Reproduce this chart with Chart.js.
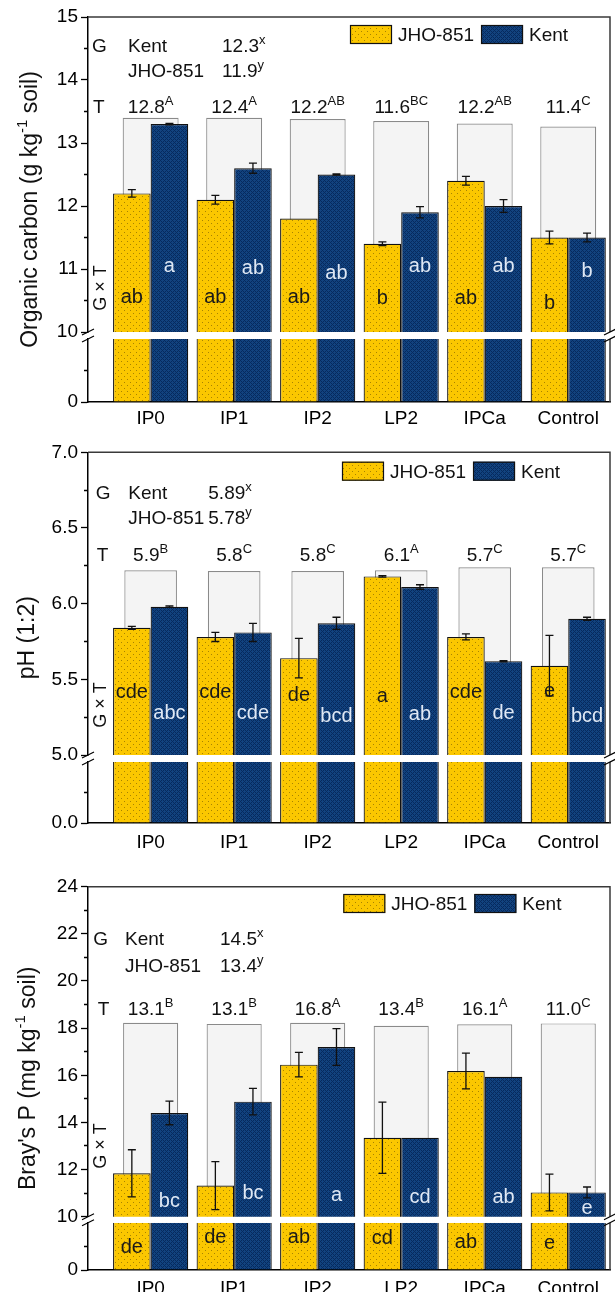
<!DOCTYPE html>
<html lang="en">
<head>
<meta charset="utf-8">
<title>Soil organic carbon, pH and Bray's P by treatment and genotype</title>
<script src="https://cdn.jsdelivr.net/npm/chart.js@4.4.1/dist/chart.umd.min.js"></script>
<style>
  html, body { margin: 0; padding: 0; background: #fff; }
  body { position: relative; width: 615px; height: 1292px; overflow: hidden; }
  canvas.panel { position: absolute; left: 0; }
</style>
</head>
<body>
<canvas id="panelOC" class="panel" width="615" height="440" style="top:0px"></canvas>
<canvas id="panelPH" class="panel" width="615" height="440" style="top:425px"></canvas>
<canvas id="panelBP" class="panel" width="615" height="455" style="top:865px"></canvas>
<script>
// ---------------- data ----------------
const treatments = ['IP0', 'IP1', 'IP2', 'LP2', 'IPCa', 'Control'];
const genotypes = ['JHO-851', 'Kent'];
const genotypeRanking = ['Kent', 'JHO-851'];

// Organic carbon (g kg-1 soil)
const ocJHO = [12.2, 12.1, 11.8, 11.4, 12.4, 11.5];
const ocJHOErr = [0.06, 0.07, 0, 0.03, 0.07, 0.1];
const ocKent = [13.3, 12.6, 12.5, 11.9, 12.0, 11.5];
const ocKentErr = [0.01, 0.08, 0.01, 0.09, 0.1, 0.07];
const ocTreatMean = ['12.8', '12.4', '12.2', '11.6', '12.2', '11.4'];
const ocTreatGroup = ['A', 'A', 'AB', 'BC', 'AB', 'C'];
const ocTreatBracket = [13.40, 13.40, 13.38, 13.35, 13.31, 13.26];
const ocGenoMean = ['12.3', '11.9'];
const ocGenoGroup = ['x', 'y'];
const ocJHOLetters = ['ab', 'ab', 'ab', 'b', 'ab', 'b'];
const ocKentLetters = ['a', 'ab', 'ab', 'ab', 'ab', 'b'];
const ocTicksUpper = [10, 10.5, 11, 11.5, 12, 12.5, 13, 13.5, 14, 14.5, 15];
const ocTickLabelsUpper = ['10', '', '11', '', '12', '', '13', '', '14', '', '15'];
const ocTicksLower = [0, 5];
const ocTickLabelsLower = ['0', ''];

// pH (1:2)
const phJHO = [5.84, 5.78, 5.64, 6.18, 5.78, 5.59];
const phJHOErr = [0.01, 0.03, 0.13, 0.005, 0.02, 0.2];
const phKent = [5.98, 5.81, 5.87, 6.11, 5.62, 5.90];
const phKentErr = [0.005, 0.06, 0.04, 0.015, 0.004, 0.01];
const phTreatMean = ['5.9', '5.8', '5.8', '6.1', '5.7', '5.7'];
const phTreatGroup = ['B', 'C', 'C', 'A', 'C', 'C'];
const phTreatBracket = [6.22, 6.215, 6.215, 6.22, 6.24, 6.24];
const phGenoMean = ['5.89', '5.78'];
const phGenoGroup = ['x', 'y'];
const phJHOLetters = ['cde', 'cde', 'de', 'a', 'cde', 'e'];
const phKentLetters = ['abc', 'cde', 'bcd', 'ab', 'de', 'bcd'];
const phTicksUpper = [5, 5.25, 5.5, 5.75, 6, 6.25, 6.5, 6.75, 7];
const phTickLabelsUpper = ['5.0', '', '5.5', '', '6.0', '', '6.5', '', '7.0'];
const phTicksLower = [0, 2.5];
const phTickLabelsLower = ['0.0', ''];

// Bray's P (mg kg-1 soil)
const bpJHO = [11.84, 11.32, 16.45, 13.35, 16.18, 11.03];
const bpJHOErr = [1.0, 1.02, 0.52, 1.51, 0.76, 0.78];
const bpKent = [14.4, 14.88, 17.2, 13.35, 15.94, 11.03];
const bpKentErr = [0.5, 0.56, 0.78, 0, 0, 0.23];
const bpTreatMean = ['13.1', '13.1', '16.8', '13.4', '16.1', '11.0'];
const bpTreatGroup = ['B', 'B', 'A', 'B', 'A', 'C'];
const bpTreatBracket = [18.23, 18.18, 18.23, 18.1, 18.16, 18.2];
const bpGenoMean = ['14.5', '13.4'];
const bpGenoGroup = ['x', 'y'];
const bpJHOLetters = ['de', 'de', 'ab', 'cd', 'ab', 'e'];
const bpKentLetters = ['bc', 'bc', 'a', 'cd', 'ab', 'e'];
const bpTicksUpper = [10, 11, 12, 13, 14, 15, 16, 17, 18, 19, 20, 21, 22, 23, 24];
const bpTickLabelsUpper = ['10', '', '12', '', '14', '', '16', '', '18', '', '20', '', '22', '', '24'];
const bpTicksLower = [0, 5];
const bpTickLabelsLower = ['0', ''];

// ---------------- styling ----------------
const FONT = "'Liberation Sans', Arial, Helvetica, sans-serif";
const TICK_SIZE = 19;
const ANNO_SIZE = 19;
const LETTER_SIZE = 20;
const TITLE_SIZE = 23;
const INK = '#111';

Chart.defaults.font.family = FONT;
Chart.defaults.color = '#000';

function makeFills(ctx) {
  const a = document.createElement('canvas');
  a.width = 6; a.height = 6;
  const g = a.getContext('2d');
  g.fillStyle = '#fbc700';
  g.fillRect(0, 0, 6, 6);
  g.fillStyle = '#a88300';
  g.fillRect(1, 1, 1, 1);
  g.fillRect(4, 4, 1, 1);

  const b = document.createElement('canvas');
  b.width = 4; b.height = 4;
  const h = b.getContext('2d');
  h.fillStyle = '#12437f';
  h.fillRect(0, 0, 4, 4);
  h.fillStyle = '#062a5e';
  [[0, 0], [1, 1], [2, 2], [3, 3], [1, 3], [3, 1]].forEach(([x, y]) => h.fillRect(x, y, 1, 1));
  return { jho: ctx.createPattern(a, 'repeat'), kent: ctx.createPattern(b, 'repeat') };
}

// text with optional superscript runs; y is the baseline
function richText(ctx, parts, x, y, align, size, color) {
  const supSize = Math.round(size * 0.66);
  const widths = parts.map(([t, sup]) => {
    ctx.font = `${sup ? supSize : size}px ${FONT}`;
    return ctx.measureText(t).width;
  });
  const total = widths.reduce((s, w) => s + w, 0);
  let cx = align === 'center' ? x - total / 2 : align === 'right' ? x - total : x;
  ctx.textAlign = 'left';
  ctx.textBaseline = 'alphabetic';
  ctx.fillStyle = color || INK;
  parts.forEach(([t, sup], k) => {
    ctx.font = `${sup ? supSize : size}px ${FONT}`;
    ctx.fillText(t, cx, sup ? y - size * 0.42 : y);
    cx += widths[k];
  });
}

const capMid = size => 0.358 * size;

function decorations(P, fills) {
  const L = P.look;
  return {
    id: 'decor',
    afterLayout(chart) {
      // split the value axis into an upper and a lower segment with a gap
      const up = chart.scales.yUp, lo = chart.scales.yLo;
      const area = chart.chartArea;
      lo.top = area.bottom - L.lowerPx;
      lo.bottom = area.bottom;
      lo.height = L.lowerPx;
      up.top = area.top;
      up.bottom = lo.top - L.gapPx;
      up.height = up.bottom - up.top;
      up.configure();
      lo.configure();
    },
    afterDatasetsDraw(chart) {
      const ctx = chart.ctx, up = chart.scales.yUp;
      ctx.save();
      // error bars
      ctx.strokeStyle = INK;
      ctx.lineWidth = 1.3;
      [[0, P.jho, P.jhoErr], [1, P.kent, P.kentErr]].forEach(([di, vals, errs]) => {
        const meta = chart.getDatasetMeta(di);
        vals.forEach((v, i) => {
          if (!errs[i]) return;
          const x = meta.data[i].x;
          const y1 = up.getPixelForValue(v + errs[i]);
          const y2 = up.getPixelForValue(v - errs[i]);
          ctx.beginPath();
          ctx.moveTo(x, y1); ctx.lineTo(x, y2);
          ctx.moveTo(x - 4, y1); ctx.lineTo(x + 4, y1);
          ctx.moveTo(x - 4, y2); ctx.lineTo(x + 4, y2);
          ctx.stroke();
        });
      });
      // G x T letters inside the bars
      [[0, P.jhoLetters, L.jhoLetter, '#1a1a1a'], [1, P.kentLetters, L.kentLetter, '#dfe8f4']].forEach(([di, letters, at, color]) => {
        const meta = chart.getDatasetMeta(di);
        const scale = chart.scales[at.axis];
        letters.forEach((t, i) => {
          const cy = scale.getPixelForValue(at.rows[i]);
          richText(ctx, [[t, false]], meta.data[i].x, cy + capMid(LETTER_SIZE), 'center', LETTER_SIZE, color);
        });
      });
      ctx.restore();
    },
    afterDraw(chart) {
      const ctx = chart.ctx, a = chart.chartArea;
      const up = chart.scales.yUp, lo = chart.scales.yLo, xs = chart.scales.x;
      ctx.save();
      // frame on top and right
      ctx.strokeStyle = '#3a3a3a';
      ctx.lineWidth = 1.5;
      ctx.beginPath();
      ctx.moveTo(a.left, a.top); ctx.lineTo(a.right, a.top); ctx.lineTo(a.right, up.bottom);
      ctx.moveTo(a.right, lo.top); ctx.lineTo(a.right, a.bottom);
      ctx.stroke();
      // axis break marks
      ctx.strokeStyle = '#000';
      ctx.lineWidth = 1.2;
      [a.left, a.right].forEach(x => [up.bottom, lo.top].forEach(y => {
        ctx.beginPath();
        ctx.moveTo(x - 6, y + 3);
        ctx.lineTo(x + 6, y - 3);
        ctx.stroke();
      }));

      // y axis title
      ctx.save();
      ctx.translate(L.titleX, (a.top + a.bottom) / 2);
      ctx.rotate(-Math.PI / 2);
      richText(ctx, P.title, 0, 0, 'center', TITLE_SIZE);
      ctx.restore();

      // genotype means
      const gy = up.getPixelForValue(L.gRow) + capMid(ANNO_SIZE);
      const jy = up.getPixelForValue(L.jRow) + capMid(ANNO_SIZE);
      richText(ctx, [['G', false]], L.gX, gy, 'left', ANNO_SIZE);
      [gy, jy].forEach((y, k) => {
        richText(ctx, [[genotypeRanking[k], false]], L.nameX, y, 'left', ANNO_SIZE);
        richText(ctx, [[P.genoMean[k], false], [P.genoGroup[k], true]], L.valX, y, 'left', ANNO_SIZE);
      });

      // treatment means
      const ty = up.getPixelForValue(L.tRow) + capMid(ANNO_SIZE);
      richText(ctx, [['T', false]], L.tX, ty, 'left', ANNO_SIZE);
      treatments.forEach((_, i) => {
        richText(ctx, [[P.treatMean[i], false], [P.treatGroup[i], true]], xs.getPixelForValue(i), ty, 'center', ANNO_SIZE);
      });

      // G x T label
      ctx.save();
      ctx.translate(L.gxtX, up.getPixelForValue(L.gxt));
      ctx.rotate(-Math.PI / 2);
      richText(ctx, [['G \u00d7 T', false]], 0, capMid(18), 'center', 18);
      ctx.restore();

      // legend
      let lx = L.legendX;
      const ly = L.legendY - L.top;
      [[chart.data.datasets[0].backgroundColor, genotypes[0]], [chart.data.datasets[1].backgroundColor, genotypes[1]]].forEach(([fill, name]) => {
        ctx.fillStyle = fill;
        ctx.fillRect(lx, ly, 42, 19);
        ctx.strokeStyle = INK;
        ctx.lineWidth = 1.2;
        ctx.strokeRect(lx + 0.5, ly + 0.5, 41, 18);
        richText(ctx, [[name, false]], lx + 48, ly + 9.5 + capMid(ANNO_SIZE), 'left', ANNO_SIZE);
        ctx.font = `${ANNO_SIZE}px ${FONT}`;
        lx += 48 + ctx.measureText(name).width + 7;
      });
      ctx.restore();
    }
  };
}

function buildPanel(P) {
  const L = P.look;
  const canvas = document.getElementById(P.canvas);
  const fills = makeFills(canvas.getContext('2d'));
  const upMin = P.ticksUp[0], upMax = P.ticksUp[P.ticksUp.length - 1];
  const loMin = P.ticksLo[0], loMax = upMin;
  const pts = vals => vals.map((v, i) => ({ x: i, y: v }));
  const ptsLow = vals => vals.map((v, i) => ({ x: i, y: Math.min(v, loMax) }));
  const edgeUp = { top: 1.2, left: 1.2, right: 1.2, bottom: 0 };
  const edgeLo = { top: 0, left: 1.2, right: 1.2, bottom: 0 };
  const bar = { categoryPercentage: 0.9, barPercentage: 1, borderColor: INK, borderSkipped: false, order: 1, inflateAmount: 0 };

  const yAxis = (ticks, labels, min, max, weight) => ({
    type: 'linear', position: 'left', stack: 'y', stackWeight: weight,
    min, max, beginAtZero: false, stacked: false,
    afterFit: s => { s.width = L.plotLeft; },
    afterBuildTicks: s => { s.ticks = ticks.map(v => ({ value: v })); },
    ticks: {
      autoSkip: false, padding: 3, color: '#000',
      font: { size: TICK_SIZE, family: FONT },
      callback: (v, i) => labels[i]
    },
    grid: {
      drawOnChartArea: false, drawTicks: true, tickLength: 7, tickWidth: 1.3, tickColor: '#000',
      tickBorderDash: c => (labels[c.index] ? [] : [0, 3, 4, 40])
    },
    border: { display: true, color: '#000', width: 1.5 }
  });

  return new Chart(canvas, {
    type: 'bar',
    data: {
      datasets: [
        { label: genotypes[0], data: pts(P.jho), yAxisID: 'yUp', stack: 'jho', backgroundColor: fills.jho, borderWidth: edgeUp, ...bar },
        { label: genotypes[1], data: pts(P.kent), yAxisID: 'yUp', stack: 'kent', backgroundColor: fills.kent, borderWidth: edgeUp, ...bar },
        { label: genotypes[0], data: ptsLow(P.jho), yAxisID: 'yLo', stack: 'jho', backgroundColor: fills.jho, borderWidth: edgeLo, ...bar },
        { label: genotypes[1], data: ptsLow(P.kent), yAxisID: 'yLo', stack: 'kent', backgroundColor: fills.kent, borderWidth: edgeLo, ...bar },
        {
          label: 'T', data: pts(P.bracket), yAxisID: 'yUp', grouped: false,
          categoryPercentage: L.bracketPct, barPercentage: 1,
          backgroundColor: '#f4f4f4', borderColor: '#8a8a8a',
          borderWidth: { top: 1.2, left: 1.2, right: 1.2, bottom: 0 }, borderSkipped: false,
          inflateAmount: 0, order: 9
        }
      ]
    },
    options: {
      responsive: false, animation: false, devicePixelRatio: 1,
      layout: { padding: { top: L.plotTop - L.top, right: 615 - L.plotRight, left: 0, bottom: 0 } },
      plugins: { legend: { display: false }, tooltip: { enabled: false } },
      scales: {
        x: {
          type: 'linear', min: -0.75, max: 5.5, offset: false,
          afterBuildTicks: s => { s.ticks = treatments.map((_, i) => ({ value: i })); },
          afterFit: s => { s.height = L.top + canvas.height - L.plotBottom; },
          grid: { display: false, drawTicks: false },
          border: { display: true, color: '#000', width: 1.5 },
          ticks: {
            autoSkip: false, maxRotation: 0, padding: L.xLabelPad, color: '#000',
            font: { size: TICK_SIZE, family: FONT },
            callback: (v, i) => treatments[i]
          }
        },
        yUp: yAxis(P.ticksUp, P.labelsUp, upMin, upMax, 5),
        yLo: yAxis(P.ticksLo, P.labelsLo, loMin, loMax, 1)
      }
    },
    plugins: [decorations(P, fills)]
  });
}

const panels = [
  {
    canvas: 'panelOC',
    title: [['Organic carbon (g kg', false], ['-1', true], [' soil)', false]],
    jho: ocJHO, jhoErr: ocJHOErr, kent: ocKent, kentErr: ocKentErr,
    bracket: ocTreatBracket, treatMean: ocTreatMean, treatGroup: ocTreatGroup,
    genoMean: ocGenoMean, genoGroup: ocGenoGroup,
    jhoLetters: ocJHOLetters, kentLetters: ocKentLetters,
    ticksUp: ocTicksUpper, labelsUp: ocTickLabelsUpper, ticksLo: ocTicksLower, labelsLo: ocTickLabelsLower,
    look: {
      top: 0, plotTop: 17, plotBottom: 402, plotLeft: 88, plotRight: 610, lowerPx: 63, gapPx: 7, xLabelPad: 5.5,
      gRow: 14.56, jRow: 14.16, tRow: 13.59, gX: 92, nameX: 128, valX: 222, tX: 93,
      legendX: 350, legendY: 25,
      jhoLetter: { axis: 'yUp', rows: [10.57, 10.57, 10.57, 10.56, 10.556, 10.48] },
      kentLetter: { axis: 'yUp', rows: [11.063, 11.037, 10.957, 11.063, 11.063, 10.984] },
      gxtX: 100, gxt: 10.7, titleX: 37, bracketPct: 0.67
    }
  },
  {
    canvas: 'panelPH',
    title: [['pH (1:2)', false]],
    jho: phJHO, jhoErr: phJHOErr, kent: phKent, kentErr: phKentErr,
    bracket: phTreatBracket, treatMean: phTreatMean, treatGroup: phTreatGroup,
    genoMean: phGenoMean, genoGroup: phGenoGroup,
    jhoLetters: phJHOLetters, kentLetters: phKentLetters,
    ticksUp: phTicksUpper, labelsUp: phTickLabelsUpper, ticksLo: phTicksLower, labelsLo: phTickLabelsLower,
    look: {
      top: 425, plotTop: 452.3, plotBottom: 823, plotLeft: 88, plotRight: 610, lowerPx: 61, gapPx: 7, xLabelPad: 8.5,
      gRow: 6.735, jRow: 6.573, tRow: 6.324, gX: 95.7, nameX: 128.3, valX: 208.3, tX: 96.7,
      legendX: 342, legendY: 461.7,
      jhoLetter: { axis: 'yUp', rows: [5.426, 5.426, 5.406, 5.40, 5.426, 5.432] },
      kentLetter: { axis: 'yUp', rows: [5.287, 5.287, 5.267, 5.28, 5.287, 5.267] },
      gxtX: 100, gxt: 5.33, titleX: 34, bracketPct: 0.63
    }
  },
  {
    canvas: 'panelBP',
    title: [["Bray's P (mg kg", false], ['-1', true], [' soil)', false]],
    jho: bpJHO, jhoErr: bpJHOErr, kent: bpKent, kentErr: bpKentErr,
    bracket: bpTreatBracket, treatMean: bpTreatMean, treatGroup: bpTreatGroup,
    genoMean: bpGenoMean, genoGroup: bpGenoGroup,
    jhoLetters: bpJHOLetters, kentLetters: bpKentLetters,
    ticksUp: bpTicksUpper, labelsUp: bpTickLabelsUpper, ticksLo: bpTicksLower, labelsLo: bpTickLabelsLower,
    look: {
      top: 865, plotTop: 886.7, plotBottom: 1270, plotLeft: 88, plotRight: 610, lowerPx: 47.3, gapPx: 6, xLabelPad: 7,
      gRow: 21.81, jRow: 20.68, tRow: 18.84, gX: 93.3, nameX: 125, valX: 220, tX: 97.7,
      legendX: 343.3, legendY: 894,
      jhoLetter: { axis: 'yLo', rows: [5.14, 7.19, 7.19, 7.04, 6.13, 5.98] },
      kentLetter: { axis: 'yUp', rows: [10.71, 11.06, 10.99, 10.89, 10.89, 10.40] },
      gxtX: 100, gxt: 13.0, titleX: 35, bracketPct: 0.66
    }
  }
];

panels.forEach(buildPanel);
</script>
</body>
</html>
